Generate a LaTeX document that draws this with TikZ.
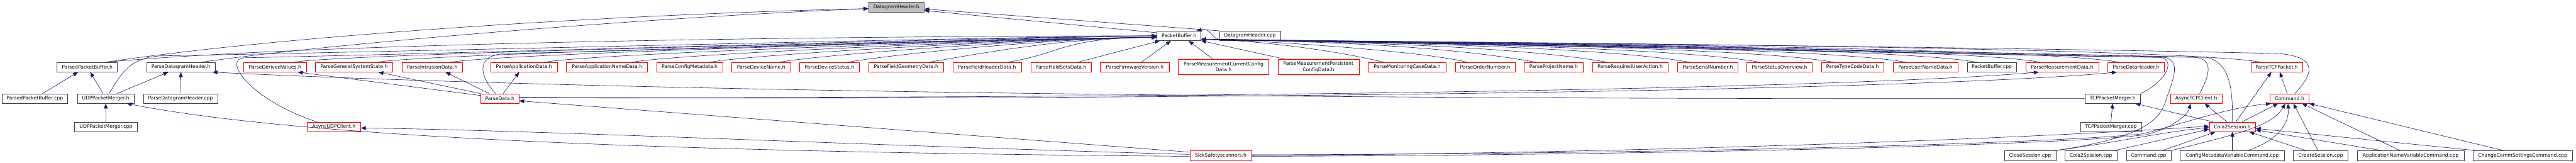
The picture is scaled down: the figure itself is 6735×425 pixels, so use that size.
\documentclass[tikz,border=0pt]{standalone}
\usepackage{fontspec}
\setmainfont{DejaVu Sans}
\usetikzlibrary{arrows.meta,calc}
\definecolor{edgec}{HTML}{191970}
\definecolor{gborder}{HTML}{404040}
\definecolor{rootfill}{HTML}{BFBFBF}
\definecolor{tred}{HTML}{FF0000}
\newcommand{\nb}[7]{%
  \pgfmathsetmacro{\nbcx}{(#2+#3)/2}%
  \pgfmathsetmacro{\nbcy}{(#4+#5)/2}%
  \pgfmathsetmacro{\nbw}{#3-#2}%
  \pgfmathsetmacro{\nbh}{#5-#4}%
  \node[#6, minimum width=\nbw pt, minimum height=\nbh pt] (#1) at (\nbcx,\nbcy) {#7};%
}
\begin{document}
\begin{tikzpicture}[x=1pt,y=-1pt,
  base/.style={rectangle, inner sep=0pt, fill=white, line width=1pt, align=center,
    font=\fontsize{12.6}{15}\selectfont, text=black},
  gnode/.style={base, draw=gborder},
  rnode/.style={base, draw=tred},
  root/.style={base, draw=gborder, fill=rootfill},
  e/.style={draw=edgec, line width=1pt, -{Triangle[length=13pt,width=10pt]}}]
\useasboundingbox (0,0) rectangle (6735,425);

% ---------- nodes ----------
\nb{dh_h}{2271}{2416}{6}{31}{root}{DatagramHeader.h}
\nb{pb_h}{3025}{3140}{81}{106}{gnode}{PacketBuffer.h}
\nb{dh_cpp}{3188}{3348}{81}{106}{gnode}{DatagramHeader.cpp}

\nb{ppb_h}{149}{307}{163}{188}{gnode}{ParsedPacketBuffer.h}
\nb{pdg_h}{383}{563}{163}{188}{gnode}{ParseDatagramHeader.h}
\nb{pdv}{637}{801}{163}{188}{rnode}{ParseDerivedValues.h}
\nb{pgss}{824}{1027}{163}{188}{rnode}{ParseGeneralSystemState.h}
\nb{pid}{1051}{1209}{163}{188}{rnode}{ParseIntrusionData.h}
\nb{pad}{1283}{1457}{163}{188}{rnode}{ParseApplicationData.h}
\nb{pand}{1481}{1693}{163}{188}{rnode}{ParseApplicationNameData.h}
\nb{pcm}{1717}{1889}{163}{188}{rnode}{ParseConfigMetadata.h}
\nb{pdn}{1913}{2067}{163}{188}{rnode}{ParseDeviceName.h}
\nb{pds}{2091}{2246}{163}{188}{rnode}{ParseDeviceStatus.h}
\nb{pfg}{2271}{2467}{163}{188}{rnode}{ParseFieldGeometryData.h}
\nb{pfh}{2491}{2670}{163}{188}{rnode}{ParseFieldHeaderData.h}
\nb{pfs}{2695}{2853}{163}{188}{rnode}{ParseFieldSetsData.h}
\nb{pfv}{2877}{3057}{163}{188}{rnode}{ParseFirmwareVersion.h}
\nb{pmcc}{3081}{3317}{155}{195}{rnode}{ParseMeasurementCurrentConfig\\Data.h}
\nb{pmpc}{3341}{3553}{155}{195}{rnode}{ParseMeasurementPersistent\\ConfigData.h}
\nb{pmc}{3577}{3781}{163}{188}{rnode}{ParseMonitoringCaseData.h}
\nb{pon}{3805}{3961}{163}{188}{rnode}{ParseOrderNumber.h}
\nb{ppn}{3985}{4139}{163}{188}{rnode}{ParseProjectName.h}
\nb{prua}{4163}{4361}{163}{188}{rnode}{ParseRequiredUserAction.h}
\nb{psn}{4386}{4544}{163}{188}{rnode}{ParseSerialNumber.h}
\nb{pso}{4567}{4738}{163}{188}{rnode}{ParseStatusOverview.h}
\nb{ptc}{4762}{4925}{163}{188}{rnode}{ParseTypeCodeData.h}
\nb{pun}{4949}{5119}{163}{188}{rnode}{ParseUserNameData.h}
\nb{pb_cpp}{5143}{5272}{163}{188}{gnode}{PacketBuffer.cpp}
\nb{pmd}{5296}{5487}{163}{188}{rnode}{ParseMeasurementData.h}
\nb{pdh}{5511}{5658}{163}{188}{rnode}{ParseDataHeader.h}
\nb{ptcp}{5885}{6020}{163}{188}{rnode}{ParseTCPPacket.h}

\nb{ppb_cpp}{5}{177}{245}{270}{gnode}{ParsedPacketBuffer.cpp}
\nb{udp_h}{202}{351}{245}{270}{gnode}{UDPPacketMerger.h}
\nb{pdg_cpp}{375}{569}{245}{270}{gnode}{ParseDatagramHeader.cpp}
\nb{pd_h}{1257}{1357}{245}{270}{rnode}{ParseData.h}
\nb{tcp_h}{5451}{5596}{245}{270}{gnode}{TCPPacketMerger.h}
\nb{atcp}{5675}{5809}{245}{270}{rnode}{AsyncTCPClient.h}
\nb{cmd_h}{5935}{6037}{245}{270}{rnode}{Command.h}

\nb{udp_cpp}{195}{359}{319}{344}{gnode}{UDPPacketMerger.cpp}
\nb{audp}{803}{943}{319}{344}{rnode}{AsyncUDPClient.h}
\nb{tcp_cpp}{5439}{5599}{319}{344}{gnode}{TCPPacketMerger.cpp}
\nb{c2s_h}{5776}{5897}{319}{344}{rnode}{Cola2Session.h}

\nb{sick}{3111}{3272}{394}{419}{rnode}{SickSafetyscanners.h}
\nb{cs_cpp}{5240}{5375}{394}{419}{gnode}{CloseSession.cpp}
\nb{c2s_cpp}{5399}{5535}{394}{419}{gnode}{Cola2Session.cpp}
\nb{cmd_cpp}{5560}{5676}{394}{419}{gnode}{Command.cpp}
\nb{cmv_cpp}{5700}{5973}{394}{419}{gnode}{ConfigMetadataVariableCommand.cpp}
\nb{crs_cpp}{5996}{6139}{394}{419}{gnode}{CreateSession.cpp}
\nb{anv_cpp}{6163}{6442}{394}{419}{gnode}{ApplicationNameVariableCommand.cpp}
\nb{ccs_cpp}{6466}{6725}{394}{419}{gnode}{ChangeCommSettingsCommand.cpp}

% ---------- edges into DatagramHeader.h ----------
\draw[e] (dh_cpp.north west) -- ($(dh_h.east)+(0,5)$);
\draw[e] ($(pb_h.north west)+(0,5)$) -- ($(dh_h.east)+(0,9)$);
\draw[e] ($(ppb_h.north)!0.6!(ppb_h.north east)$) .. controls (800,85) and (1700,35) .. ($(dh_h.west)+(0,4)$);
\draw[e] ($(pdg_h.north)!0.6!(pdg_h.north east)$) .. controls (850,115) and (1700,45) .. ($(dh_h.west)+(0,4)$);

% ---------- edges into PacketBuffer.h from the left ----------
\draw[e] ($(ppb_h.north)!0.6!(ppb_h.north east)$) .. controls (800,115) and (2000,95) .. (pb_h.west);
\draw[e] ($(udp_h.north)+(9,0)$) .. controls (320,185) and (345,150) .. (420,146) .. controls (1400,128) and (2400,100) .. (pb_h.west);
\draw[e] ($(audp.north)+(-44,0)$) .. controls (650,260) and (580,152) .. (640,151) .. controls (1500,132) and (2400,102) .. (pb_h.west);
\draw[e] ($(pd_h.north)+(-11,0)$) .. controls (1255,200) and (1240,145) .. (1320,140) .. controls (2000,125) and (2600,100) .. (pb_h.west);
\foreach \n in {pdv,pgss,pid,pad,pand,pcm,pdn,pds,pfg,pfh}{
  \draw[e] ($(\n.north)!0.6!(\n.north east)$) .. controls +(150,-25) and +(-250,2) .. ($(pb_h.west)+(0,4)$);
}
\draw[e] ($(pfs.north)!0.55!(pfs.north east)$) -- ($(pb_h.south west)+(8,0)$);
\draw[e] ($(pfv.north)+(17,0)$) -- ($(pb_h.south west)+(37,0)$);

% ---------- edges into PacketBuffer.h from the right ----------
\draw[e] ($(pmcc.north)+(-28,0)$) -- ($(pb_h.south)+(25,0)$);
\draw[e] ($(pmpc.north west)+(19,0)$) -- (pb_h.south east);
\foreach \n in {pmc,pon}{
  \draw[e] ($(\n.north)!0.6!(\n.north west)$) .. controls +(-120,-30) and +(150,3) .. ($(pb_h.east)+(0,9)$);
}
\foreach \n in {ppn,prua,psn,pso,ptc,pun,pb_cpp,pmd,pdh,ptcp}{
  \draw[e] ($(\n.north)!0.6!(\n.north west)$) .. controls +(-250,-45) and +(300,6) .. ($(pb_h.east)+(0,9)$);
}
\draw[e] (tcp_h.north east) .. controls (5660,215) and (5690,160) .. (5650,150) .. controls (5000,138) and (3600,110) .. ($(pb_h.east)+(0,9)$);
\draw[e] ($(atcp.north)+(9,0)$) .. controls (5775,200) and (5790,155) .. (5740,150) .. controls (5000,135) and (3600,108) .. ($(pb_h.east)+(0,9)$);
\draw[e] (c2s_h.north) .. controls (5838,230) and (5830,165) .. (5770,150) .. controls (5000,132) and (3600,106) .. ($(pb_h.east)+(0,9)$);
\draw[e] ($(cmd_h.north)+(14,0)$) .. controls (6050,190) and (6060,150) .. (5960,140) .. controls (5000,118) and (3400,108) .. (3195,104) .. controls (3165,103) and (3168,72) .. ($(pb_h.north east)+(-12,0)$);
\draw[e] (cs_cpp.north east) .. controls (5560,365) and (5640,330) .. (5660,270) .. controls (5680,210) and (5705,160) .. (5660,150) .. controls (5000,140) and (3600,110) .. ($(pb_h.east)+(0,9)$);

% ---------- left part ----------
\draw[e] ($(ppb_cpp.north)+(20,0)$) -- ($(ppb_h.south)+(-24,0)$);
\draw[e] ($(udp_h.north)+(-7,0)$) -- ($(ppb_h.south)+(8,0)$);
\draw[e] ($(udp_h.north)+(29,0)$) -- ($(pdg_h.south)+(-33,0)$);
\draw[e] (pdg_cpp.north) -- (pdg_h.south);
\draw[e] (udp_cpp.north) -- (udp_h.south);

% ---------- ParseData.h ----------
\draw[e] (pd_h.north west) -- ($(pgss.south east)+(-38,0)$);
\draw[e] ($(pd_h.north west)+(0,5)$) -- ($(pdv.south east)+(-23,0)$);
\draw[e] ($(pd_h.north west)+(23,0)$) -- ($(pid.south east)+(-45,0)$);
\draw[e] ($(pd_h.north west)+(59,0)$) -- ($(pad.south west)+(75,0)$);
\draw[e] ($(pd_h.east)+(0,-3)$) .. controls (3500,258) and (4900,225) .. ($(pmd.south west)+(35,0)$);
\draw[e] ($(pd_h.east)+(0,-2)$) .. controls (3500,262) and (5100,230) .. ($(pdh.south west)+(24,0)$);

% ---------- TCPPacketMerger.h ----------
\draw[e] (tcp_h.west) .. controls (2500,262) and (1100,215) .. ($(pdg_h.south east)+(-8,0)$);
\draw[e] (tcp_cpp.north) -- (tcp_h.south);

% ---------- SickSafetyscanners.h ----------
\draw[e] ($(sick.north west)+(0,4)$) -- ($(pd_h.south east)+(0,-7)$);
\draw[e] ($(sick.west)+(0,-3)$) .. controls (2200,378) and (1400,340) .. ($(audp.east)+(0,3)$);
\draw[e] ($(sick.west)+(0,2)$) .. controls (1800,398) and (800,362) .. ($(udp_h.south east)+(-20,0)$);
\draw[e] (sick.east) .. controls (4300,400) and (5300,362) .. ($(c2s_h.west)+(0,-2)$);
\draw[e] ($(sick.east)+(0,-2)$) .. controls (4400,402) and (5350,375) .. (5600,350) .. controls (5720,320) and (5820,282) .. ($(cmd_h.south west)+(3,0)$);
\draw[e] ($(sick.east)+(0,2)$) .. controls (4400,405) and (5400,378) .. (5610,352) .. controls (5680,335) and (5720,300) .. ($(atcp.south)+(-15,0)$);

% ---------- Cola2Session.h / Command.h ----------
\draw[e] ($(c2s_h.north west)+(11,0)$) -- ($(tcp_h.south east)+(-14,0)$);
\draw[e] ($(c2s_h.north)+(-14,0)$) -- ($(atcp.south)+(22,0)$);
\draw[e] ($(c2s_h.north)+(9,0)$) -- ($(ptcp.south)+(-14,0)$);
\draw[e] ($(c2s_h.north)+(25,0)$) -- ($(cmd_h.south)+(-30,0)$);
\draw[e] ($(cmd_h.north)+(-6,0)$) -- ($(ptcp.south)+(8,0)$);

% ---------- bottom row ----------
\draw[e] ($(cs_cpp.north east)+(-5,0)$) .. controls (5550,370) and (5650,345) .. ($(c2s_h.west)+(0,2)$);
\draw[e] ($(c2s_cpp.north east)+(-8,0)$) -- ($(c2s_h.west)+(0,6)$);
\draw[e] ($(cmd_cpp.north)+(35,0)$) -- ($(c2s_h.south west)+(17,0)$);
\draw[e] (cmd_cpp.north east) .. controls (5850,350) and (5940,330) .. ($(cmd_h.south)+(-11,0)$);
\draw[e] (cmv_cpp.north) -- (c2s_h.south);
\draw[e] ($(cmv_cpp.north)+(40,0)$) .. controls (5960,365) and (5985,320) .. ($(cmd_h.south)+(-4,0)$);
\draw[e] ($(crs_cpp.north)+(-38,0)$) -- ($(c2s_h.south east)+(-17,0)$);
\draw[e] ($(crs_cpp.north)+(-7,0)$) -- ($(cmd_h.south)+(10,0)$);
\draw[e] ($(anv_cpp.north west)+(66,0)$) -- ($(c2s_h.east)+(0,8)$);
\draw[e] ($(anv_cpp.north west)+(113,0)$) -- ($(cmd_h.south east)+(-19,0)$);
\draw[e] ($(ccs_cpp.north west)+(10,0)$) -- ($(c2s_h.east)+(0,4)$);
\draw[e] ($(ccs_cpp.north west)+(81,0)$) -- (cmd_h.south east);
\end{tikzpicture}
\end{document}
